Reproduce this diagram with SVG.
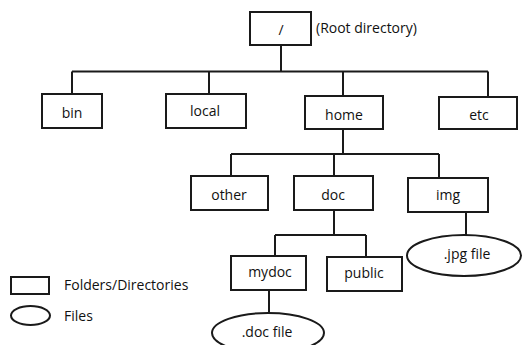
<svg xmlns="http://www.w3.org/2000/svg" width="522" height="345" viewBox="0 0 522 345">
  <style>
    .box { fill: #ffffff; stroke: #1a1a1a; stroke-width: 2; }
    .file { fill: #ffffff; stroke: #1a1a1a; stroke-width: 2; }
    .wire { fill: none; stroke: #1a1a1a; stroke-width: 2; }
    text { font-family: "Open Sans", "Noto Sans", sans-serif; font-size: 14px; fill: #111111; }
    .c { text-anchor: middle; }
  </style>
  <rect width="522" height="345" fill="#ffffff"/>

  <!-- tree connectors -->
  <g id="connectors">
    <path class="wire" d="M281 45 V71.5 M72 71.5 H488 M72 71.5 V94 M209 71.5 V94 M343 71.5 V96 M488 71.5 V97"/>
    <path class="wire" d="M343 129 V154 M231 154 H439 M231 154 V176 M334 154 V176 M439 154 V178"/>
    <path class="wire" d="M334 210 V235 M275 235 H366 M275 235 V256 M366 235 V257"/>
    <path class="wire" d="M466 212 V235"/>
    <path class="wire" d="M269 290 V313"/>
  </g>

  <g id="root">
    <rect class="box" x="250" y="12" width="61" height="33"/>
    <text class="c" x="281" y="35">/</text>
    <text x="316" y="33">(Root directory)</text>
  </g>
  <g id="bin">
    <rect class="box" x="42" y="94" width="60" height="34"/>
    <text class="c" x="72" y="118">bin</text>
  </g>
  <g id="local">
    <rect class="box" x="166" y="94" width="80" height="34"/>
    <text class="c" x="205" y="116">local</text>
  </g>
  <g id="home">
    <rect class="box" x="305" y="96" width="78" height="33"/>
    <text class="c" x="344" y="120">home</text>
  </g>
  <g id="etc">
    <rect class="box" x="439" y="97" width="78" height="32"/>
    <text class="c" x="479" y="120">etc</text>
  </g>
  <g id="other">
    <rect class="box" x="191" y="176" width="77" height="34"/>
    <text class="c" x="229" y="200">other</text>
  </g>
  <g id="doc">
    <rect class="box" x="294" y="176" width="79" height="34"/>
    <text class="c" x="333" y="200">doc</text>
  </g>
  <g id="img">
    <rect class="box" x="408" y="178" width="80" height="34"/>
    <text class="c" x="448" y="200">img</text>
  </g>
  <g id="mydoc">
    <rect class="box" x="231" y="256" width="75" height="34"/>
    <text class="c" x="270" y="277">mydoc</text>
  </g>
  <g id="public">
    <rect class="box" x="327" y="257" width="75" height="34"/>
    <text class="c" x="364" y="278">public</text>
  </g>
  <g id="jpg-file">
    <ellipse class="file" cx="464" cy="255.5" rx="57" ry="20.5"/>
    <text class="c" x="467" y="259">.jpg file</text>
  </g>
  <g id="doc-file">
    <ellipse class="file" cx="268" cy="333" rx="56" ry="20"/>
    <text class="c" x="267" y="337">.doc file</text>
  </g>

  <!-- legend -->
  <g id="legend-folder">
    <rect class="box" x="11" y="277" width="38" height="17"/>
    <text x="64" y="290">Folders/Directories</text>
  </g>
  <g id="legend-file">
    <ellipse class="file" cx="30.5" cy="315.5" rx="19.5" ry="9.5"/>
    <text x="64" y="321">Files</text>
  </g>
</svg>
